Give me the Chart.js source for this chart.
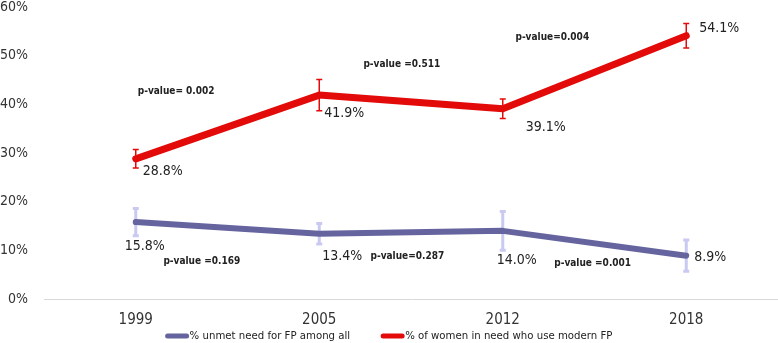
<!DOCTYPE html>
<html>
<head>
<meta charset="utf-8">
<script src="https://cdn.jsdelivr.net/npm/chart.js@4.4.1/dist/chart.umd.min.js"></script>
<style>
  html, body { margin:0; padding:0; background:#fff; }
  #wrap { width:778px; height:343px; position:relative; }
</style>
</head>
<body>
<div id="wrap"><canvas id="c"></canvas></div>
<script>
// datos
const years = ['1999', '2005', '2012', '2018'];
const unmetNeed = [15.8, 13.4, 14.0, 8.9];
const unmetErr = [2.8, 2.1, 4.0, 3.2];
const modernUse = [28.8, 41.9, 39.1, 54.1];
const modernErr = [1.9, 3.2, 2.0, 2.5];
const unmetP = ['p-value =0.169', 'p-value=0.287', 'p-value =0.001'];
const modernP = ['p-value= 0.002', 'p-value =0.511', 'p-value=0.004'];
const yTicks = [0, 10, 20, 30, 40, 50, 60];

// posiciones de las etiquetas (solo estilo)
const FONT = '"Liberation Sans Narrow", "DejaVu Sans Condensed", "Liberation Sans", sans-serif';
const modernLblOff = [[7, 13], [5, 18], [23, 19], [13, -7]];
const unmetLblOff = [[-11, 24], [3, 23], [-6, 29], [8, 2]];
const modernPPos = [[0.22, 42.7], [1.45, 48.2], [2.27, 53.8]];
const unmetPPos = [[0.36, 7.8], [1.48, 8.7], [2.49, 7.3]];

const RED = '#E30A0A', BLUE = '#65649F';

const extras = {
  id: 'extras',
  beforeDatasetsDraw(chart) {
    const ctx = chart.ctx, x = chart.scales.x, y = chart.scales.y;
    const bars = (vals, errs, color, w, cap) => {
      ctx.save();
      ctx.strokeStyle = color; ctx.lineWidth = w;
      vals.forEach((v, i) => {
        const px = x.getPixelForValue(i);
        const t = y.getPixelForValue(v + errs[i]), b = y.getPixelForValue(v - errs[i]);
        ctx.beginPath();
        ctx.moveTo(px, t); ctx.lineTo(px, b);
        ctx.moveTo(px - cap, t); ctx.lineTo(px + cap, t);
        ctx.moveTo(px - cap, b); ctx.lineTo(px + cap, b);
        ctx.stroke();
      });
      ctx.restore();
    };
    bars(unmetNeed, unmetErr, '#C9C9F2', 3, 3);
    bars(modernUse, modernErr, RED, 1.5, 3);
  },
  afterDatasetsDraw(chart) {
    const ctx = chart.ctx, x = chart.scales.x, y = chart.scales.y;
    ctx.save();
    ctx.fillStyle = '#222';
    ctx.textBaseline = 'middle';
    ctx.textAlign = 'left';
    ctx.font = '14px ' + FONT;
    const lbl = (vals, offs) => vals.forEach((v, i) => {
      ctx.fillText(v.toFixed(1) + '%', x.getPixelForValue(i) + offs[i][0], y.getPixelForValue(v) + offs[i][1]);
    });
    lbl(modernUse, modernLblOff);
    lbl(unmetNeed, unmetLblOff);
    ctx.font = 'bold 10px ' + FONT;
    ctx.textAlign = 'center';
    const pv = (txt, pos) => txt.forEach((t, i) => {
      ctx.fillText(t, x.getPixelForValue(pos[i][0]), y.getPixelForValue(pos[i][1]));
    });
    pv(modernP, modernPPos);
    pv(unmetP, unmetPPos);

    // leyenda
    ctx.font = '11.3px ' + FONT;
    ctx.textAlign = 'left';
    const items = chart.data.datasets;
    const sw = 23, gap = 1, sp = 31;
    const widths = items.map(d => sw + gap + ctx.measureText(d.label).width);
    let lx = (chart.width - widths.reduce((a, b) => a + b, 0) - sp) / 2;
    const ly = 336;
    items.forEach((d, i) => {
      ctx.strokeStyle = d.borderColor; ctx.lineWidth = 5; ctx.lineCap = 'round';
      ctx.beginPath(); ctx.moveTo(lx + 2, ly); ctx.lineTo(lx + sw - 2, ly); ctx.stroke();
      ctx.fillStyle = '#222';
      ctx.fillText(d.label, lx + sw + gap, ly);
      lx += widths[i] + sp;
    });
    ctx.restore();
  }
};

new Chart(document.getElementById('c').getContext('2d'), {
  type: 'line',
  data: {
    labels: years,
    datasets: [
      { label: '% unmet need for FP among all', data: unmetNeed, borderColor: BLUE, backgroundColor: BLUE,
        borderWidth: 6, pointRadius: 0, borderCapStyle: 'round', borderJoinStyle: 'round', tension: 0 },
      { label: '% of women in need who use modern FP', data: modernUse, borderColor: RED, backgroundColor: RED,
        borderWidth: 7, pointRadius: 0, borderCapStyle: 'round', borderJoinStyle: 'round', tension: 0 }
    ]
  },
  options: {
    responsive: true,
    maintainAspectRatio: false,
    animation: false,
    layout: { padding: { top: 7, right: 0, left: 0, bottom: 2 } },
    plugins: { legend: { display: false }, tooltip: { enabled: false } },
    scales: {
      x: {
        offset: true,
        grid: { display: false, drawTicks: false },
        border: { display: true, color: '#D9D9D9', width: 1 },
        ticks: { color: '#333', font: { family: FONT, size: 15 }, padding: 12 }
      },
      y: {
        min: 0, max: 60,
        afterBuildTicks: s => { s.ticks = yTicks.map(v => ({ value: v })); },
        afterFit: s => { s.width = 44; s.paddingTop = 0; s.paddingBottom = 0; },
        grid: { display: false, drawTicks: false },
        border: { display: false },
        ticks: { color: '#333', font: { family: FONT, size: 14 }, padding: 16, callback: v => v + '%' }
      }
    }
  },
  plugins: [extras]
});
</script>
</body>
</html>
